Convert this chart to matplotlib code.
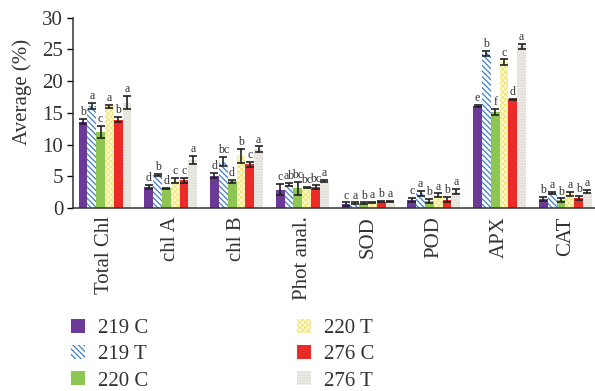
import numpy as np
import matplotlib
matplotlib.use("Agg")
import matplotlib.pyplot as plt
from matplotlib.patches import Patch

plt.rcParams['font.family'] = ['Liberation Serif', 'DejaVu Serif']
plt.rcParams['hatch.linewidth'] = 0.9

categories = ["Total Chl", "chl A", "chl B", "Phot anal.", "SOD", "POD", "APX", "CAT"]
series = ["219 C", "219 T", "220 C", "220 T", "276 C", "276 T"]

means = {
    "219 C": [13.6, 3.3, 5.1, 2.9, 0.6, 1.3, 16.1, 1.4],
    "219 T": [16.1, 5.2, 7.3, 3.7, 0.8, 2.3, 24.4, 2.4],
    "220 C": [12.0, 3.1, 4.2, 3.1, 0.8, 1.1, 15.1, 1.2],
    "220 T": [16.0, 4.4, 8.2, 3.2, 0.9, 2.0, 23.0, 2.2],
    "276 C": [13.9, 4.4, 6.9, 3.3, 1.0, 1.3, 17.1, 1.6],
    "276 T": [16.6, 7.6, 9.3, 4.3, 1.0, 2.6, 25.5, 2.6],
}
errors = {
    "219 C": [0.4, 0.3, 0.4, 0.9, 0.3, 0.3, 0.15, 0.3],
    "219 T": [0.5, 0.15, 0.7, 0.3, 0.1, 0.4, 0.4, 0.2],
    "220 C": [0.95, 0.1, 0.2, 1.0, 0.1, 0.3, 0.5, 0.3],
    "220 T": [0.25, 0.4, 1.1, 0.1, 0.1, 0.3, 0.4, 0.3],
    "276 C": [0.4, 0.4, 0.4, 0.25, 0.1, 0.4, 0.1, 0.3],
    "276 T": [1.05, 0.6, 0.4, 0.15, 0.1, 0.4, 0.4, 0.2],
}
letters = {
    "219 C": ["b", "d", "d", "c", "c", "c", "e", "b"],
    "219 T": ["a", "b", "bc", "ab", "a", "a", "b", "a"],
    "220 C": ["c", "d", "d", "bc", "b", "b", "f", "b"],
    "220 T": ["a", "c", "b", "bc", "a", "a", "c", "a"],
    "276 C": ["b", "c", "c", "bc", "b", "b", "d", "b"],
    "276 T": ["a", "a", "a", "a", "a", "a", "a", "a"],
}

styles = {
    "219 C": dict(facecolor="#6b3a97", edgecolor="#6b3a97", hatch=None),
    "219 T": dict(facecolor="white", edgecolor="#3f7fd0", hatch="\\\\\\\\\\\\"),
    "220 C": dict(facecolor="#8dc653", edgecolor="#8dc653", hatch=None),
    "220 T": dict(facecolor="#fffce6", edgecolor="#f0e878", hatch="xxxxxx"),
    "276 C": dict(facecolor="#ec2a27", edgecolor="#ec2a27", hatch=None),
    "276 T": dict(facecolor="#efede8", edgecolor="#d8d4cc", hatch="......"),
}

fig = plt.figure(figsize=(5.95, 3.91), dpi=100)
ax = fig.add_axes([0.1227, 0.468, 0.8773, 0.487])

x = np.arange(len(categories))
n = len(series)
width = 0.134
for i, s in enumerate(series):
    pos = x + (i - (n - 1) / 2) * width
    st = styles[s]
    ax.bar(pos, means[s], width, facecolor=st["facecolor"], edgecolor=st["edgecolor"],
           hatch=st["hatch"], linewidth=0, label=s, zorder=2)
    ax.errorbar(pos, means[s], yerr=errors[s], fmt="none", ecolor="#222222",
                elinewidth=1.2, capsize=2.6, capthick=1.2, zorder=3)
    for xp, m, e, lab in zip(pos, means[s], errors[s], letters[s]):
        ax.text(xp, m + e + 0.12, lab, ha="center", va="bottom", fontsize=8.6,
                color="#333333", zorder=4)

ax.set_ylim(0, 30)
ax.set_xlim(-0.486, 7.45)
ax.set_yticks([0, 5, 10, 15, 20, 25, 30])
ax.set_xticks(x)
ax.set_xticklabels(categories, rotation=90, fontsize=15, color="#333333")
ax.tick_params(axis="x", length=0, pad=6)
ax.tick_params(axis="y", length=4, width=1, direction="out", labelsize=15,
               labelcolor="#333333", pad=3)
ax.set_ylabel("Average (%)", fontsize=15, color="#333333")
ax.yaxis.set_label_coords(-0.079, 0.61)
for side in ("top", "right"):
    ax.spines[side].set_visible(False)
for side in ("left", "bottom"):
    ax.spines[side].set_linewidth(1.1)
    ax.spines[side].set_color("#333333")

handles = [Patch(facecolor=styles[s]["facecolor"], edgecolor=styles[s]["edgecolor"],
                 hatch=styles[s]["hatch"], linewidth=0, label=s) for s in series]
fig.legend(handles=handles, loc="upper left", bbox_to_anchor=(0.12, 0.185),
           ncol=2, frameon=False, fontsize=15, handlelength=0.67, handleheight=0.67,
           handletextpad=0.63, labelspacing=0.33, columnspacing=7.1,
           borderaxespad=0, borderpad=0, labelcolor="#333333")

fig.savefig("out.png", dpi=100)
